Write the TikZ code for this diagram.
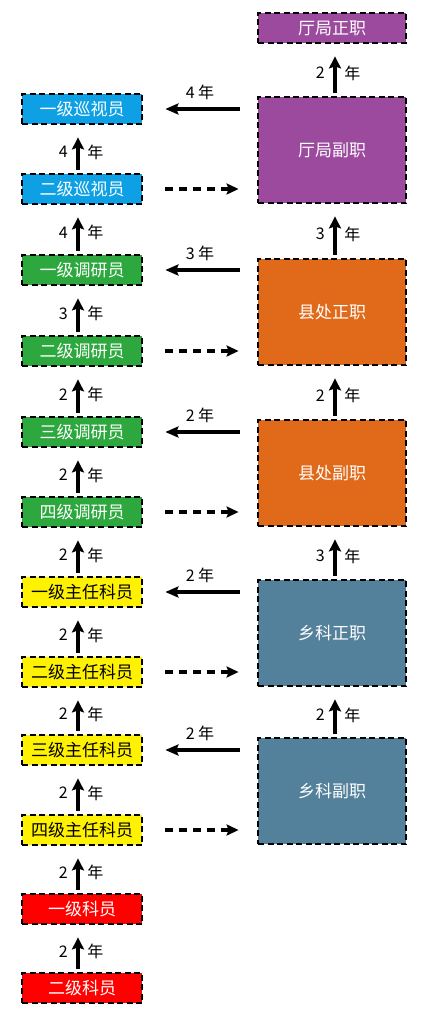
\documentclass[tikz,border=0pt]{standalone}
\usepackage{fontspec}
\setmainfont{Noto Sans CJK SC}
\usetikzlibrary{arrows.meta}

\definecolor{xsblue}{RGB}{14,160,228}
\definecolor{dygreen}{RGB}{45,168,62}
\definecolor{tjpurple}{RGB}{155,74,158}
\definecolor{xcorange}{RGB}{224,106,26}
\definecolor{xksteel}{RGB}{83,128,154}
\definecolor{zryellow}{RGB}{255,242,0}
\definecolor{kyred}{RGB}{255,0,0}

\begin{document}
\begin{tikzpicture}[x=1pt, y=-1pt,
    rankbox/.style={draw=black, line width=2.8pt, dash pattern=on 6pt off 3.5pt,
        minimum width=120pt, minimum height=30pt, inner sep=0pt,
        font=\fontsize{17}{17}\selectfont, text=white},
    postbox/.style={rankbox, minimum width=148pt, minimum height=106pt},
    climb/.style={line width=4pt, -{Stealth[length=12pt,width=12pt,inset=2pt]},
        shorten <=3pt, shorten >=12pt},
    yearfont/.style={font=\fontsize{16}{16}\selectfont},
    leftarr/.style={line width=3.3pt, -{Stealth[length=13pt,width=11pt,inset=2pt]},
        shorten <=17pt, shorten >=22pt},
    dasharr/.style={line width=3.5pt, dash pattern=on 8pt off 6pt,
        -{Stealth[length=12pt,width=11pt,inset=2pt]},
        shorten <=22pt, shorten >=18pt}]

    % page frame
    \useasboundingbox (0,0) rectangle (427,1014);

    % Left column: ranks
    \node[rankbox, fill=xsblue] (XS1) at (82,109) {一级巡视员};
    \node[rankbox, fill=xsblue] (XS2) at (82,189) {二级巡视员};
    \node[rankbox, fill=dygreen] (DY1) at (82,270) {一级调研员};
    \node[rankbox, fill=dygreen] (DY2) at (82,351) {二级调研员};
    \node[rankbox, fill=dygreen] (DY3) at (82,432) {三级调研员};
    \node[rankbox, fill=dygreen] (DY4) at (82,512) {四级调研员};
    \node[rankbox, fill=zryellow, text=black] (ZR1) at (82,592) {一级主任科员};
    \node[rankbox, fill=zryellow, text=black] (ZR2) at (82,672) {二级主任科员};
    \node[rankbox, fill=zryellow, text=black] (ZR3) at (82,750) {三级主任科员};
    \node[rankbox, fill=zryellow, text=black] (ZR4) at (82,830) {四级主任科员};
    \node[rankbox, fill=kyred] (KY1) at (82,909) {一级科员};
    \node[rankbox, fill=kyred] (KY2) at (82,988) {二级科员};

    % Right column: posts
    \node[rankbox, fill=tjpurple, minimum width=148pt] (TJZ) at (332,28) {厅局正职};
    \node[postbox, fill=tjpurple] (TJF) at (332,150) {厅局副职};
    \node[postbox, fill=xcorange] (XCZ) at (332,312) {县处正职};
    \node[postbox, fill=xcorange] (XCF) at (332,473) {县处副职};
    \node[postbox, fill=xksteel] (XKZ) at (332,633) {乡科正职};
    \node[postbox, fill=xksteel] (XKF) at (332,791) {乡科副职};

    % Promotion steps, left column
    \draw[climb] ([xshift=-4pt]XS2.north) -- ([xshift=-4pt]XS1.south)
        node[midway, left=5pt, yshift=-3pt, yearfont] {4} node[midway, right=4pt, yshift=-3pt, yearfont] {年};
    \draw[climb] ([xshift=-4pt]DY1.north) -- ([xshift=-4pt]XS2.south)
        node[midway, left=5pt, yshift=-3pt, yearfont] {4} node[midway, right=4pt, yshift=-3pt, yearfont] {年};
    \draw[climb] ([xshift=-4pt]DY2.north) -- ([xshift=-4pt]DY1.south)
        node[midway, left=5pt, yshift=-3pt, yearfont] {3} node[midway, right=4pt, yshift=-3pt, yearfont] {年};
    \draw[climb] ([xshift=-4pt]DY3.north) -- ([xshift=-4pt]DY2.south)
        node[midway, left=5pt, yshift=-3pt, yearfont] {2} node[midway, right=4pt, yshift=-3pt, yearfont] {年};
    \draw[climb] ([xshift=-4pt]DY4.north) -- ([xshift=-4pt]DY3.south)
        node[midway, left=5pt, yshift=-3pt, yearfont] {2} node[midway, right=4pt, yshift=-3pt, yearfont] {年};
    \draw[climb] ([xshift=-4pt]ZR1.north) -- ([xshift=-4pt]DY4.south)
        node[midway, left=5pt, yshift=-3pt, yearfont] {2} node[midway, right=4pt, yshift=-3pt, yearfont] {年};
    \draw[climb] ([xshift=-4pt]ZR2.north) -- ([xshift=-4pt]ZR1.south)
        node[midway, left=5pt, yshift=-3pt, yearfont] {2} node[midway, right=4pt, yshift=-3pt, yearfont] {年};
    \draw[climb] ([xshift=-4pt]ZR3.north) -- ([xshift=-4pt]ZR2.south)
        node[midway, left=5pt, yshift=-3pt, yearfont] {2} node[midway, right=4pt, yshift=-3pt, yearfont] {年};
    \draw[climb] ([xshift=-4pt]ZR4.north) -- ([xshift=-4pt]ZR3.south)
        node[midway, left=5pt, yshift=-3pt, yearfont] {2} node[midway, right=4pt, yshift=-3pt, yearfont] {年};
    \draw[climb] ([xshift=-4pt]KY1.north) -- ([xshift=-4pt]ZR4.south)
        node[midway, left=5pt, yshift=-3pt, yearfont] {2} node[midway, right=4pt, yshift=-3pt, yearfont] {年};
    \draw[climb] ([xshift=-4pt]KY2.north) -- ([xshift=-4pt]KY1.south)
        node[midway, left=5pt, yshift=-3pt, yearfont] {2} node[midway, right=4pt, yshift=-3pt, yearfont] {年};

    % Promotion steps, right column
    \draw[climb] ([xshift=3pt]TJF.north) -- ([xshift=3pt]TJZ.south)
        node[midway, left=5pt, yshift=-3pt, yearfont] {2} node[midway, right=4pt, yshift=-3pt, yearfont] {年};
    \draw[climb] ([xshift=3pt]XCZ.north) -- ([xshift=3pt]TJF.south)
        node[midway, left=5pt, yshift=-3pt, yearfont] {3} node[midway, right=4pt, yshift=-3pt, yearfont] {年};
    \draw[climb] ([xshift=3pt]XCF.north) -- ([xshift=3pt]XCZ.south)
        node[midway, left=5pt, yshift=-3pt, yearfont] {2} node[midway, right=4pt, yshift=-3pt, yearfont] {年};
    \draw[climb] ([xshift=3pt]XKZ.north) -- ([xshift=3pt]XCF.south)
        node[midway, left=5pt, yshift=-3pt, yearfont] {3} node[midway, right=4pt, yshift=-3pt, yearfont] {年};
    \draw[climb] ([xshift=3pt]XKF.north) -- ([xshift=3pt]XKZ.south)
        node[midway, left=5pt, yshift=-3pt, yearfont] {2} node[midway, right=4pt, yshift=-3pt, yearfont] {年};

    % Post to rank (solid)
    \draw[leftarr] (TJF.west |- XS1.east) -- (XS1.east) node[midway, above=4pt, yearfont] {4 年};
    \draw[leftarr] (XCZ.west |- DY1.east) -- (DY1.east) node[midway, above=4pt, yearfont] {3 年};
    \draw[leftarr] (XCF.west |- DY3.east) -- (DY3.east) node[midway, above=4pt, yearfont] {2 年};
    \draw[leftarr] (XKZ.west |- ZR1.east) -- (ZR1.east) node[midway, above=4pt, yearfont] {2 年};
    \draw[leftarr] (XKF.west |- ZR3.east) -- (ZR3.east) node[midway, above=4pt, yearfont] {2 年};

    % Rank to post (dashed)
    \draw[dasharr] (XS2.east) -- (XS2.east -| TJF.west);
    \draw[dasharr] (DY2.east) -- (DY2.east -| XCZ.west);
    \draw[dasharr] (DY4.east) -- (DY4.east -| XCF.west);
    \draw[dasharr] (ZR2.east) -- (ZR2.east -| XKZ.west);
    \draw[dasharr] (ZR4.east) -- (ZR4.east -| XKF.west);

\end{tikzpicture}
\end{document}
